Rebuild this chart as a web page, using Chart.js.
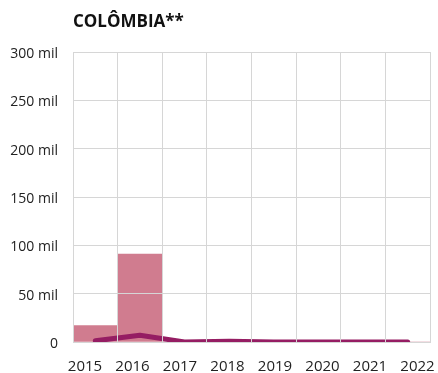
<!DOCTYPE html>
<html>
<head>
<meta charset="utf-8">
<script src="https://cdn.jsdelivr.net/npm/chart.js@4"></script>
<style>
  html, body { margin: 0; padding: 0; background: #fff; }
  #wrap { position: relative; width: 438px; height: 373px; }
  #title {
    position: absolute; left: 73px; top: 12px;
    font: bold 17px/17px "Open Sans", sans-serif; color: #111;
  }
</style>
</head>
<body>
<div id="wrap">
  <div id="title">COLÔMBIA**</div>
  <canvas id="chart" width="438" height="373"></canvas>
</div>
<script>
// dados
const years = ['2015', '2016', '2017', '2018', '2019', '2020', '2021', '2022'];
const barValues = [17000, 91000, 0, 0, 0, 0, 0, 0];
const lineValues = [1200, 7000, 0, 700, 0, 0, 0, 0];
const yTicks = [0, 50000, 100000, 150000, 200000, 250000, 300000];

const firstYear = Number(years[0]);

// grade por cima das barras, mas abaixo da linha
const gridOverBars = {
  id: 'gridOverBars',
  afterDatasetDraw(chart, args) {
    if (args.index !== 0) return;
    chart.scales.x.drawGrid(chart.chartArea);
    chart.scales.y.drawGrid(chart.chartArea);
  }
};

new Chart(document.getElementById('chart'), {
  data: {
    labels: years,
    datasets: [
      {
        type: 'line',
        data: lineValues,
        borderColor: '#951d63',
        borderWidth: 5,
        borderCapStyle: 'round',
        borderJoinStyle: 'round',
        pointRadius: 0,
        tension: 0,
        order: 1
      },
      {
        type: 'bar',
        data: barValues,
        backgroundColor: '#d07c8f',
        barPercentage: 1,
        categoryPercentage: 1,
        order: 2
      }
    ]
  },
  options: {
    responsive: false,
    animation: false,
    layout: { padding: { top: 52, right: 8, left: 0, bottom: 0 } },
    plugins: {
      legend: { display: false },
      tooltip: { enabled: false }
    },
    scales: {
      x: {
        type: 'category',
        offset: true,
        grid: { offset: true, color: '#d6d6d6', drawTicks: false },
        border: { color: '#d6d6d6' },
        ticks: { display: false },
        afterFit(scale) { scale.height = 0; }
      },
      xLabels: {
        type: 'linear',
        position: 'bottom',
        min: firstYear - 0.253,
        max: firstYear - 0.253 + 7.516,
        grid: { display: false },
        border: { display: false },
        ticks: {
          stepSize: 1,
          includeBounds: false,
          autoSkip: false,
          maxRotation: 0,
          padding: 8,
          color: '#222',
          font: { family: 'Open Sans', size: 15 },
          callback: v => years[Math.round(v) - firstYear]
        },
        afterFit(scale) {
          scale.height = 31;
          scale.paddingLeft = 0;
          scale.paddingRight = 0;
        }
      },
      y: {
        min: 0,
        max: 300000,
        grid: { color: '#d6d6d6', drawTicks: false },
        border: { color: '#d6d6d6' },
        afterBuildTicks(scale) { scale.ticks = yTicks.map(v => ({ value: v })); },
        ticks: {
          padding: 15,
          labelOffset: 2,
          color: '#222',
          font: { family: 'Open Sans', size: 14 },
          callback: v => v === 0 ? '0' : (v / 1000) + ' mil'
        },
        afterFit(scale) {
          scale.width = 73;
          scale.paddingTop = 0;
          scale.paddingBottom = 0;
        }
      }
    }
  },
  plugins: [gridOverBars]
});
</script>
</body>
</html>
